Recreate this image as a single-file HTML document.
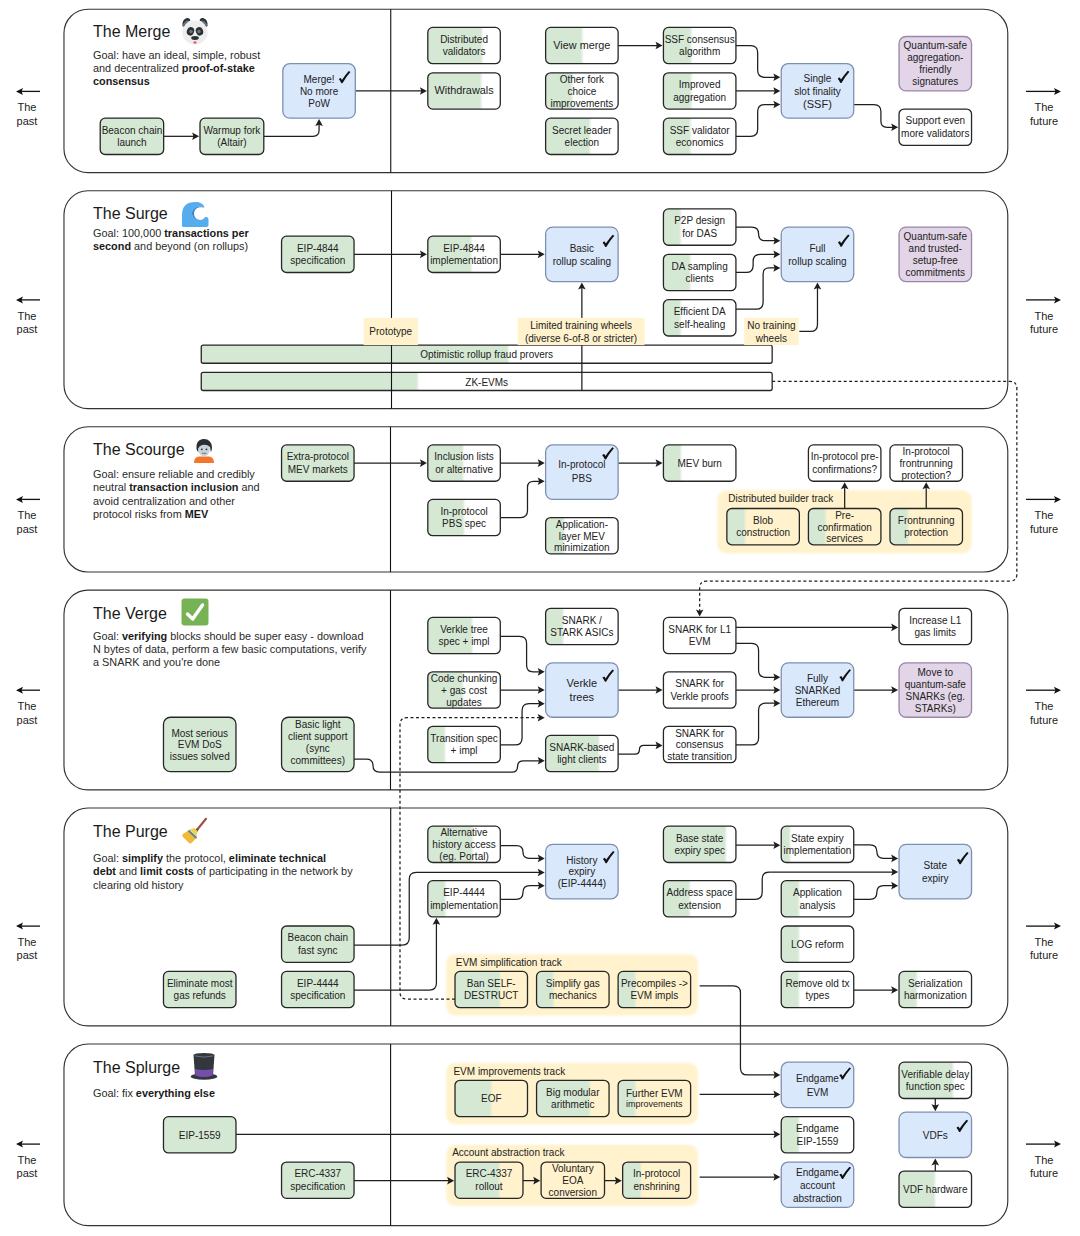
<!DOCTYPE html><html><head><meta charset="utf-8"><style>
*{margin:0;padding:0;box-sizing:border-box}
html,body{width:1080px;height:1236px;overflow:hidden;background:#fff;font-family:"Liberation Sans", sans-serif;}
.layer{position:absolute;left:0;top:0;width:1080px;height:1236px}
.btxt{position:absolute;display:flex;align-items:center;justify-content:center;text-align:center;font-size:10px;line-height:12px;color:#222}
.btxt span{display:block;white-space:nowrap}
.tlabel{position:absolute;font-size:10px;line-height:12px;color:#222;white-space:nowrap}
.title{position:absolute;font-size:16px;line-height:19px;color:#1a1a1a;white-space:nowrap}
.goal{position:absolute;font-size:10.87px;line-height:13.2px;color:#2a2a2a;white-space:nowrap}
.goal b{color:#1a1a1a}
.pf{position:absolute;text-align:center;font-size:11px;line-height:13.5px;color:#222}
</style></head><body>
<svg class="layer" width="1080" height="1236" viewBox="0 0 1080 1236"><defs><filter id="soft" x="-5%" y="-20%" width="110%" height="140%"><feGaussianBlur stdDeviation="0.8"/></filter><linearGradient id="g1" gradientUnits="userSpaceOnUse" x1="506.78" y1="0" x2="509.98" y2="0"><stop offset="0" stop-color="#d5e8d4"/><stop offset="1" stop-color="#fff"/></linearGradient><linearGradient id="g2" gradientUnits="userSpaceOnUse" x1="416.25" y1="0" x2="419.45" y2="0"><stop offset="0" stop-color="#d5e8d4"/><stop offset="1" stop-color="#fff"/></linearGradient><linearGradient id="g3" gradientUnits="userSpaceOnUse" x1="480.59" y1="0" x2="483.79" y2="0"><stop offset="0" stop-color="#d5e8d4"/><stop offset="1" stop-color="#fff"/></linearGradient><linearGradient id="g4" gradientUnits="userSpaceOnUse" x1="479.68" y1="0" x2="482.88" y2="0"><stop offset="0" stop-color="#d5e8d4"/><stop offset="1" stop-color="#fff"/></linearGradient><linearGradient id="g5" gradientUnits="userSpaceOnUse" x1="580.72" y1="0" x2="583.92" y2="0"><stop offset="0" stop-color="#d5e8d4"/><stop offset="1" stop-color="#fff"/></linearGradient><linearGradient id="g6" gradientUnits="userSpaceOnUse" x1="570.75" y1="0" x2="573.95" y2="0"><stop offset="0" stop-color="#d5e8d4"/><stop offset="1" stop-color="#fff"/></linearGradient><linearGradient id="g7" gradientUnits="userSpaceOnUse" x1="588.42" y1="0" x2="591.62" y2="0"><stop offset="0" stop-color="#d5e8d4"/><stop offset="1" stop-color="#fff"/></linearGradient><linearGradient id="g8" gradientUnits="userSpaceOnUse" x1="689.74" y1="0" x2="692.94" y2="0"><stop offset="0" stop-color="#d5e8d4"/><stop offset="1" stop-color="#fff"/></linearGradient><linearGradient id="g9" gradientUnits="userSpaceOnUse" x1="689.74" y1="0" x2="692.94" y2="0"><stop offset="0" stop-color="#d5e8d4"/><stop offset="1" stop-color="#fff"/></linearGradient><linearGradient id="g10" gradientUnits="userSpaceOnUse" x1="689.01" y1="0" x2="692.21" y2="0"><stop offset="0" stop-color="#d5e8d4"/><stop offset="1" stop-color="#fff"/></linearGradient><linearGradient id="g11" gradientUnits="userSpaceOnUse" x1="469.71" y1="0" x2="472.91" y2="0"><stop offset="0" stop-color="#d5e8d4"/><stop offset="1" stop-color="#fff"/></linearGradient><linearGradient id="g12" gradientUnits="userSpaceOnUse" x1="679.04" y1="0" x2="682.24" y2="0"><stop offset="0" stop-color="#d5e8d4"/><stop offset="1" stop-color="#fff"/></linearGradient><linearGradient id="g13" gradientUnits="userSpaceOnUse" x1="688.74" y1="0" x2="691.94" y2="0"><stop offset="0" stop-color="#d5e8d4"/><stop offset="1" stop-color="#fff"/></linearGradient><linearGradient id="g14" gradientUnits="userSpaceOnUse" x1="679.04" y1="0" x2="682.24" y2="0"><stop offset="0" stop-color="#d5e8d4"/><stop offset="1" stop-color="#fff"/></linearGradient><linearGradient id="g15" gradientUnits="userSpaceOnUse" x1="461.56" y1="0" x2="464.76" y2="0"><stop offset="0" stop-color="#d5e8d4"/><stop offset="1" stop-color="#fff"/></linearGradient><linearGradient id="g16" gradientUnits="userSpaceOnUse" x1="462.46" y1="0" x2="465.66" y2="0"><stop offset="0" stop-color="#d5e8d4"/><stop offset="1" stop-color="#fff"/></linearGradient><linearGradient id="g17" gradientUnits="userSpaceOnUse" x1="562.6" y1="0" x2="565.8" y2="0"><stop offset="0" stop-color="#d5e8d4"/><stop offset="1" stop-color="#fff"/></linearGradient><linearGradient id="g18" gradientUnits="userSpaceOnUse" x1="679.41" y1="0" x2="682.61" y2="0"><stop offset="0" stop-color="#d5e8d4"/><stop offset="1" stop-color="#fff"/></linearGradient><linearGradient id="g19" gradientUnits="userSpaceOnUse" x1="743.38" y1="0" x2="746.58" y2="0"><stop offset="0" stop-color="#d5e8d4"/><stop offset="1" stop-color="#fff2cc"/></linearGradient><linearGradient id="g20" gradientUnits="userSpaceOnUse" x1="824.04" y1="0" x2="827.24" y2="0"><stop offset="0" stop-color="#d5e8d4"/><stop offset="1" stop-color="#fff2cc"/></linearGradient><linearGradient id="g21" gradientUnits="userSpaceOnUse" x1="906.5" y1="0" x2="909.7" y2="0"><stop offset="0" stop-color="#d5e8d4"/><stop offset="1" stop-color="#fff2cc"/></linearGradient><linearGradient id="g22" gradientUnits="userSpaceOnUse" x1="470.62" y1="0" x2="473.82" y2="0"><stop offset="0" stop-color="#d5e8d4"/><stop offset="1" stop-color="#fff"/></linearGradient><linearGradient id="g23" gradientUnits="userSpaceOnUse" x1="461.19" y1="0" x2="464.39" y2="0"><stop offset="0" stop-color="#d5e8d4"/><stop offset="1" stop-color="#fff"/></linearGradient><linearGradient id="g24" gradientUnits="userSpaceOnUse" x1="443.43" y1="0" x2="446.63" y2="0"><stop offset="0" stop-color="#d5e8d4"/><stop offset="1" stop-color="#fff"/></linearGradient><linearGradient id="g25" gradientUnits="userSpaceOnUse" x1="561.6" y1="0" x2="564.8" y2="0"><stop offset="0" stop-color="#d5e8d4"/><stop offset="1" stop-color="#fff"/></linearGradient><linearGradient id="g26" gradientUnits="userSpaceOnUse" x1="597.49" y1="0" x2="600.69" y2="0"><stop offset="0" stop-color="#d5e8d4"/><stop offset="1" stop-color="#fff"/></linearGradient><linearGradient id="g27" gradientUnits="userSpaceOnUse" x1="470.98" y1="0" x2="474.18" y2="0"><stop offset="0" stop-color="#d5e8d4"/><stop offset="1" stop-color="#fff"/></linearGradient><linearGradient id="g28" gradientUnits="userSpaceOnUse" x1="443.88" y1="0" x2="447.08" y2="0"><stop offset="0" stop-color="#d5e8d4"/><stop offset="1" stop-color="#fff"/></linearGradient><linearGradient id="g29" gradientUnits="userSpaceOnUse" x1="724.26" y1="0" x2="727.46" y2="0"><stop offset="0" stop-color="#d5e8d4"/><stop offset="1" stop-color="#fff"/></linearGradient><linearGradient id="g30" gradientUnits="userSpaceOnUse" x1="688.11" y1="0" x2="691.31" y2="0"><stop offset="0" stop-color="#d5e8d4"/><stop offset="1" stop-color="#fff"/></linearGradient><linearGradient id="g31" gradientUnits="userSpaceOnUse" x1="788.51" y1="0" x2="791.71" y2="0"><stop offset="0" stop-color="#d5e8d4"/><stop offset="1" stop-color="#fff"/></linearGradient><linearGradient id="g32" gradientUnits="userSpaceOnUse" x1="797.39" y1="0" x2="800.59" y2="0"><stop offset="0" stop-color="#d5e8d4"/><stop offset="1" stop-color="#fff"/></linearGradient><linearGradient id="g33" gradientUnits="userSpaceOnUse" x1="797.39" y1="0" x2="800.59" y2="0"><stop offset="0" stop-color="#d5e8d4"/><stop offset="1" stop-color="#fff"/></linearGradient><linearGradient id="g34" gradientUnits="userSpaceOnUse" x1="797.39" y1="0" x2="800.59" y2="0"><stop offset="0" stop-color="#d5e8d4"/><stop offset="1" stop-color="#fff"/></linearGradient><linearGradient id="g35" gradientUnits="userSpaceOnUse" x1="915.2" y1="0" x2="918.4" y2="0"><stop offset="0" stop-color="#d5e8d4"/><stop offset="1" stop-color="#fff"/></linearGradient><linearGradient id="g36" gradientUnits="userSpaceOnUse" x1="498.35" y1="0" x2="501.55" y2="0"><stop offset="0" stop-color="#d5e8d4"/><stop offset="1" stop-color="#fff2cc"/></linearGradient><linearGradient id="g37" gradientUnits="userSpaceOnUse" x1="551.81" y1="0" x2="555.01" y2="0"><stop offset="0" stop-color="#d5e8d4"/><stop offset="1" stop-color="#fff2cc"/></linearGradient><linearGradient id="g38" gradientUnits="userSpaceOnUse" x1="633.73" y1="0" x2="636.93" y2="0"><stop offset="0" stop-color="#d5e8d4"/><stop offset="1" stop-color="#fff2cc"/></linearGradient><linearGradient id="g39" gradientUnits="userSpaceOnUse" x1="489.56" y1="0" x2="492.76" y2="0"><stop offset="0" stop-color="#d5e8d4"/><stop offset="1" stop-color="#fff2cc"/></linearGradient><linearGradient id="g40" gradientUnits="userSpaceOnUse" x1="588.15" y1="0" x2="591.35" y2="0"><stop offset="0" stop-color="#d5e8d4"/><stop offset="1" stop-color="#fff2cc"/></linearGradient><linearGradient id="g41" gradientUnits="userSpaceOnUse" x1="633.73" y1="0" x2="636.93" y2="0"><stop offset="0" stop-color="#d5e8d4"/><stop offset="1" stop-color="#fff2cc"/></linearGradient><linearGradient id="g42" gradientUnits="userSpaceOnUse" x1="497.62" y1="0" x2="500.82" y2="0"><stop offset="0" stop-color="#d5e8d4"/><stop offset="1" stop-color="#fff2cc"/></linearGradient><linearGradient id="g43" gradientUnits="userSpaceOnUse" x1="639.17" y1="0" x2="642.37" y2="0"><stop offset="0" stop-color="#d5e8d4"/><stop offset="1" stop-color="#fff2cc"/></linearGradient><linearGradient id="g44" gradientUnits="userSpaceOnUse" x1="797.39" y1="0" x2="800.59" y2="0"><stop offset="0" stop-color="#d5e8d4"/><stop offset="1" stop-color="#fff"/></linearGradient><linearGradient id="g45" gradientUnits="userSpaceOnUse" x1="951.54" y1="0" x2="954.74" y2="0"><stop offset="0" stop-color="#d5e8d4"/><stop offset="1" stop-color="#fff"/></linearGradient><linearGradient id="g46" gradientUnits="userSpaceOnUse" x1="933.41" y1="0" x2="936.61" y2="0"><stop offset="0" stop-color="#d5e8d4"/><stop offset="1" stop-color="#fff"/></linearGradient></defs><rect x="63.97" y="9.25" width="943.81" height="163.39" rx="24" ry="24" fill="#fff" stroke="#333" stroke-width="1.15"/><rect x="63.97" y="190.79" width="943.81" height="217.85" rx="24" ry="24" fill="#fff" stroke="#333" stroke-width="1.15"/><rect x="63.97" y="426.79" width="943.81" height="145.23" rx="24" ry="24" fill="#fff" stroke="#333" stroke-width="1.15"/><rect x="63.97" y="590.17" width="943.81" height="199.69" rx="24" ry="24" fill="#fff" stroke="#333" stroke-width="1.15"/><rect x="63.97" y="808.02" width="943.81" height="217.85" rx="24" ry="24" fill="#fff" stroke="#333" stroke-width="1.15"/><rect x="63.97" y="1044.03" width="943.81" height="181.54" rx="24" ry="24" fill="#fff" stroke="#333" stroke-width="1.15"/><rect x="717.3" y="490.33" width="254.24" height="62.94" rx="9" fill="#fff2cc" filter="url(#soft)"/><rect x="446.24" y="954.15" width="251.64" height="61.34" rx="9" fill="#fff2cc" filter="url(#soft)"/><rect x="446.24" y="1063.08" width="251.64" height="61.34" rx="9" fill="#fff2cc" filter="url(#soft)"/><rect x="446.24" y="1144.77" width="251.64" height="61.34" rx="9" fill="#fff2cc" filter="url(#soft)"/><rect x="201.26" y="345.1" width="570.91" height="18.15" rx="2" fill="url(#g1)" stroke="#262626" stroke-width="1.3"/><rect x="201.26" y="372.33" width="570.91" height="18.15" rx="2" fill="url(#g2)" stroke="#262626" stroke-width="1.3"/></svg>
<svg class="layer" width="1080" height="1236" viewBox="0 0 1080 1236"><line x1="390.75" y1="9.25" x2="390.75" y2="172.63" stroke="#111" stroke-width="1.1"/><line x1="391.5" y1="190.79" x2="391.5" y2="408.63" stroke="#111" stroke-width="1.1"/><line x1="390.5" y1="426.79" x2="390.5" y2="572.02" stroke="#111" stroke-width="1.1"/><line x1="390.5" y1="590.17" x2="390.5" y2="789.87" stroke="#111" stroke-width="1.1"/><line x1="390.7" y1="808.02" x2="390.7" y2="1025.87" stroke="#111" stroke-width="1.1"/><line x1="390.6" y1="1044.03" x2="390.6" y2="1225.57" stroke="#111" stroke-width="1.1"/><line x1="19" y1="91.4" x2="40" y2="91.4" stroke="#111" stroke-width="1.3"/><path d="M16 91.4 L23 87.9 L21.5 91.4 L23 94.9 Z" fill="#111"/><line x1="1026" y1="91.4" x2="1058" y2="91.4" stroke="#111" stroke-width="1.3"/><path d="M1061 91.4 L1054 87.9 L1055.5 91.4 L1054 94.9 Z" fill="#111"/><line x1="19" y1="299.9" x2="40" y2="299.9" stroke="#111" stroke-width="1.3"/><path d="M16 299.9 L23 296.4 L21.5 299.9 L23 303.4 Z" fill="#111"/><line x1="1026" y1="299.9" x2="1058" y2="299.9" stroke="#111" stroke-width="1.3"/><path d="M1061 299.9 L1054 296.4 L1055.5 299.9 L1054 303.4 Z" fill="#111"/><line x1="19" y1="499.4" x2="40" y2="499.4" stroke="#111" stroke-width="1.3"/><path d="M16 499.4 L23 495.9 L21.5 499.4 L23 502.9 Z" fill="#111"/><line x1="1026" y1="499.4" x2="1058" y2="499.4" stroke="#111" stroke-width="1.3"/><path d="M1061 499.4 L1054 495.9 L1055.5 499.4 L1054 502.9 Z" fill="#111"/><line x1="19" y1="690.2" x2="40" y2="690.2" stroke="#111" stroke-width="1.3"/><path d="M16 690.2 L23 686.7 L21.5 690.2 L23 693.7 Z" fill="#111"/><line x1="1026" y1="690.2" x2="1058" y2="690.2" stroke="#111" stroke-width="1.3"/><path d="M1061 690.2 L1054 686.7 L1055.5 690.2 L1054 693.7 Z" fill="#111"/><line x1="19" y1="926.1" x2="40" y2="926.1" stroke="#111" stroke-width="1.3"/><path d="M16 926.1 L23 922.6 L21.5 926.1 L23 929.6 Z" fill="#111"/><line x1="1026" y1="926.1" x2="1058" y2="926.1" stroke="#111" stroke-width="1.3"/><path d="M1061 926.1 L1054 922.6 L1055.5 926.1 L1054 929.6 Z" fill="#111"/><line x1="19" y1="1144.1" x2="40" y2="1144.1" stroke="#111" stroke-width="1.3"/><path d="M16 1144.1 L23 1140.6 L21.5 1144.1 L23 1147.6 Z" fill="#111"/><line x1="1026" y1="1144.1" x2="1058" y2="1144.1" stroke="#111" stroke-width="1.3"/><path d="M1061 1144.1 L1054 1140.6 L1055.5 1144.1 L1054 1147.6 Z" fill="#111"/><path d="M163.66 136.32 L194.0 136.32" fill="none" stroke="#1e1e1e" stroke-width="1.25"/><path d="M199.1 136.32 L192.1 140.12 L193.5 136.32 L192.1 132.52 Z" fill="#1e1e1e"/><path d="M263.79 136.32 L312.99 136.32 Q319.07 136.32 319.07 130.25 L319.07 124.17" fill="none" stroke="#1e1e1e" stroke-width="1.25"/><path d="M319.07 119.07 L322.87 126.07 L319.07 124.67 L315.27 126.07 Z" fill="#1e1e1e"/><path d="M355.32 90.94 L421.81 90.94" fill="none" stroke="#1e1e1e" stroke-width="1.25"/><path d="M426.91 90.94 L419.91 94.74 L421.31 90.94 L419.91 87.14 Z" fill="#1e1e1e"/><path d="M618.12 45.55 L657.43 45.55" fill="none" stroke="#1e1e1e" stroke-width="1.25"/><path d="M662.53 45.55 L655.53 49.35 L656.93 45.55 L655.53 41.76 Z" fill="#1e1e1e"/><path d="M735.92 45.55 L750.67 45.55 Q757.67 45.55 757.67 52.55 L757.67 70.32 Q757.67 77.32 764.67 77.32 L775.23 77.32" fill="none" stroke="#1e1e1e" stroke-width="1.25"/><path d="M780.33 77.32 L773.33 81.12 L774.73 77.32 L773.33 73.52 Z" fill="#1e1e1e"/><path d="M735.92 90.94 L775.23 90.94" fill="none" stroke="#1e1e1e" stroke-width="1.25"/><path d="M780.33 90.94 L773.33 94.74 L774.73 90.94 L773.33 87.14 Z" fill="#1e1e1e"/><path d="M735.92 136.32 L750.67 136.32 Q757.67 136.32 757.67 129.32 L757.67 111.56 Q757.67 104.56 764.67 104.56 L775.23 104.56" fill="none" stroke="#1e1e1e" stroke-width="1.25"/><path d="M780.33 104.56 L773.33 108.36 L774.73 104.56 L773.33 100.76 Z" fill="#1e1e1e"/><path d="M853.73 104.56 L873.91 104.56 Q880.91 104.56 880.91 111.56 L880.91 121.19 Q880.91 127.25 886.98 127.25 L893.04 127.25" fill="none" stroke="#1e1e1e" stroke-width="1.25"/><path d="M898.14 127.25 L891.14 131.05 L892.54 127.25 L891.14 123.45 Z" fill="#1e1e1e"/><path d="M354.05 254.33 L421.81 254.33" fill="none" stroke="#1e1e1e" stroke-width="1.25"/><path d="M426.91 254.33 L419.91 258.13 L421.31 254.33 L419.91 250.53 Z" fill="#1e1e1e"/><path d="M500.31 254.33 L539.62 254.33" fill="none" stroke="#1e1e1e" stroke-width="1.25"/><path d="M544.72 254.33 L537.72 258.13 L539.12 254.33 L537.72 250.53 Z" fill="#1e1e1e"/><path d="M581.87 390.48 L581.87 287.56" fill="none" stroke="#1e1e1e" stroke-width="1.25"/><path d="M581.87 282.46 L585.67 289.46 L581.87 288.06 L578.07 289.46 Z" fill="#1e1e1e"/><path d="M735.92 227.09 L751.77 227.09 Q758.58 227.09 758.58 233.9 L758.58 233.9 Q758.58 240.71 765.38 240.71 L775.23 240.71" fill="none" stroke="#1e1e1e" stroke-width="1.25"/><path d="M780.33 240.71 L773.33 244.51 L774.73 240.71 L773.33 236.91 Z" fill="#1e1e1e"/><path d="M735.92 272.48 L746.14 272.48 Q753.14 272.48 753.14 265.48 L753.14 261.33 Q753.14 254.33 760.14 254.33 L775.23 254.33" fill="none" stroke="#1e1e1e" stroke-width="1.25"/><path d="M780.33 254.33 L773.33 258.13 L774.73 254.33 L773.33 250.53 Z" fill="#1e1e1e"/><path d="M735.92 309.24 L756.11 309.24 Q763.11 309.24 763.11 302.24 L763.11 274.0 Q763.11 267.94 769.17 267.94 L775.23 267.94" fill="none" stroke="#1e1e1e" stroke-width="1.25"/><path d="M780.33 267.94 L773.33 271.74 L774.73 267.94 L773.33 264.14 Z" fill="#1e1e1e"/><path d="M799.36 331.48 L810.48 331.48 Q817.48 331.48 817.48 324.48 L817.48 287.56" fill="none" stroke="#1e1e1e" stroke-width="1.25"/><path d="M817.48 282.46 L821.28 289.46 L817.48 288.06 L813.68 289.46 Z" fill="#1e1e1e"/><path d="M772.17 381.4 L1009.84 381.4 Q1016.84 381.4 1016.84 388.4 L1016.84 574.1 Q1016.84 581.1 1009.84 581.1 L706.67 581.1 Q699.67 581.1 699.67 588.1 L699.67 611.41" fill="none" stroke="#1e1e1e" stroke-width="1.25" stroke-dasharray="3 2.5"/><path d="M699.67 616.51 L695.87 609.51 L699.67 610.91 L703.47 609.51 Z" fill="#1e1e1e"/><path d="M354.05 463.1 L421.81 463.1" fill="none" stroke="#1e1e1e" stroke-width="1.25"/><path d="M426.91 463.1 L419.91 466.9 L421.31 463.1 L419.91 459.3 Z" fill="#1e1e1e"/><path d="M500.31 463.1 L539.62 463.1" fill="none" stroke="#1e1e1e" stroke-width="1.25"/><path d="M544.72 463.1 L537.72 466.9 L539.12 463.1 L537.72 459.3 Z" fill="#1e1e1e"/><path d="M500.31 517.56 L520.5 517.56 Q527.5 517.56 527.5 510.56 L527.5 487.31 Q527.5 481.25 533.56 481.25 L539.62 481.25" fill="none" stroke="#1e1e1e" stroke-width="1.25"/><path d="M544.72 481.25 L537.72 485.05 L539.12 481.25 L537.72 477.45 Z" fill="#1e1e1e"/><path d="M618.12 463.1 L657.43 463.1" fill="none" stroke="#1e1e1e" stroke-width="1.25"/><path d="M662.53 463.1 L655.53 466.9 L656.93 463.1 L655.53 459.3 Z" fill="#1e1e1e"/><path d="M844.67 508.48 L844.67 487.25" fill="none" stroke="#1e1e1e" stroke-width="1.25"/><path d="M844.67 482.15 L848.47 489.15 L844.67 487.75 L840.87 489.15 Z" fill="#1e1e1e"/><path d="M926.22 508.48 L926.22 487.25" fill="none" stroke="#1e1e1e" stroke-width="1.25"/><path d="M926.22 482.15 L930.02 489.15 L926.22 487.75 L922.42 489.15 Z" fill="#1e1e1e"/><path d="M500.31 636.47 L519.59 636.47 Q526.59 636.47 526.59 643.47 L526.59 665.35 Q526.59 671.87 533.1 671.87 L539.62 671.87" fill="none" stroke="#1e1e1e" stroke-width="1.25"/><path d="M544.72 671.87 L537.72 675.67 L539.12 671.87 L537.72 668.07 Z" fill="#1e1e1e"/><path d="M500.31 690.02 L539.62 690.02" fill="none" stroke="#1e1e1e" stroke-width="1.25"/><path d="M544.72 690.02 L537.72 693.82 L539.12 690.02 L537.72 686.22 Z" fill="#1e1e1e"/><path d="M500.31 744.94 L515.06 744.94 Q522.06 744.94 522.06 737.94 L522.06 710.64 Q522.06 703.64 529.06 703.64 L539.62 703.64" fill="none" stroke="#1e1e1e" stroke-width="1.25"/><path d="M544.72 703.64 L537.72 707.44 L539.12 703.64 L537.72 699.84 Z" fill="#1e1e1e"/><path d="M455.0 999.09 L406.99 999.09 Q399.99 999.09 399.99 992.09 L399.99 724.71 Q399.99 717.71 406.99 717.71 L539.62 717.71" fill="none" stroke="#1e1e1e" stroke-width="1.25" stroke-dasharray="3 2.5"/><path d="M544.72 717.71 L537.72 721.51 L539.12 717.71 L537.72 713.91 Z" fill="#1e1e1e"/><path d="M354.05 759.01 L366.41 759.01 Q372.99 759.01 372.99 765.59 L372.99 765.59 Q372.99 772.17 379.57 772.17 L511.85 772.17 Q517.53 772.17 517.53 766.5 L517.53 766.5 Q517.53 760.82 523.2 760.82 L539.62 760.82" fill="none" stroke="#1e1e1e" stroke-width="1.25"/><path d="M544.72 760.82 L537.72 764.62 L539.12 760.82 L537.72 757.02 Z" fill="#1e1e1e"/><path d="M618.12 690.02 L657.43 690.02" fill="none" stroke="#1e1e1e" stroke-width="1.25"/><path d="M662.53 690.02 L655.53 693.82 L656.93 690.02 L655.53 686.22 Z" fill="#1e1e1e"/><path d="M618.12 754.01 L635.1 754.01 Q639.41 754.01 639.41 749.7 L639.41 749.7 Q639.41 745.39 643.72 745.39 L657.43 745.39" fill="none" stroke="#1e1e1e" stroke-width="1.25"/><path d="M662.53 745.39 L655.53 749.19 L656.93 745.39 L655.53 741.59 Z" fill="#1e1e1e"/><path d="M735.92 627.39 L893.04 627.39" fill="none" stroke="#1e1e1e" stroke-width="1.25"/><path d="M898.14 627.39 L891.14 631.19 L892.54 627.39 L891.14 623.59 Z" fill="#1e1e1e"/><path d="M735.92 643.28 L751.58 643.28 Q758.58 643.28 758.58 650.28 L758.58 670.31 Q758.58 677.31 765.58 677.31 L775.23 677.31" fill="none" stroke="#1e1e1e" stroke-width="1.25"/><path d="M780.33 677.31 L773.33 681.11 L774.73 677.31 L773.33 673.51 Z" fill="#1e1e1e"/><path d="M735.92 690.02 L775.23 690.02" fill="none" stroke="#1e1e1e" stroke-width="1.25"/><path d="M780.33 690.02 L773.33 693.82 L774.73 690.02 L773.33 686.22 Z" fill="#1e1e1e"/><path d="M735.92 744.94 L751.58 744.94 Q758.58 744.94 758.58 737.94 L758.58 710.18 Q758.58 703.18 765.58 703.18 L775.23 703.18" fill="none" stroke="#1e1e1e" stroke-width="1.25"/><path d="M780.33 703.18 L773.33 706.98 L774.73 703.18 L773.33 699.38 Z" fill="#1e1e1e"/><path d="M853.73 690.02 L893.04 690.02" fill="none" stroke="#1e1e1e" stroke-width="1.25"/><path d="M898.14 690.02 L891.14 693.82 L892.54 690.02 L891.14 686.22 Z" fill="#1e1e1e"/><path d="M500.31 845.69 L516.61 845.69 Q522.97 845.69 522.97 852.05 L522.97 852.05 Q522.97 858.4 529.32 858.4 L539.62 858.4" fill="none" stroke="#1e1e1e" stroke-width="1.25"/><path d="M544.72 858.4 L537.72 862.2 L539.12 858.4 L537.72 854.6 Z" fill="#1e1e1e"/><path d="M354.05 945.09 L402.24 945.09 Q409.24 945.09 409.24 938.09 L409.24 879.47 Q409.24 872.47 416.24 872.47 L539.62 872.47" fill="none" stroke="#1e1e1e" stroke-width="1.25"/><path d="M544.72 872.47 L537.72 876.27 L539.12 872.47 L537.72 868.67 Z" fill="#1e1e1e"/><path d="M500.31 899.25 L516.16 899.25 Q522.97 899.25 522.97 892.44 L522.97 892.44 Q522.97 885.63 529.77 885.63 L539.62 885.63" fill="none" stroke="#1e1e1e" stroke-width="1.25"/><path d="M544.72 885.63 L537.72 889.43 L539.12 885.63 L537.72 881.83 Z" fill="#1e1e1e"/><path d="M354.05 990.02 L429.42 990.02 Q436.42 990.02 436.42 983.02 L436.42 922.95" fill="none" stroke="#1e1e1e" stroke-width="1.25"/><path d="M436.42 917.85 L440.22 924.85 L436.42 923.45 L432.62 924.85 Z" fill="#1e1e1e"/><path d="M735.92 845.24 L775.23 845.24" fill="none" stroke="#1e1e1e" stroke-width="1.25"/><path d="M780.33 845.24 L773.33 849.04 L774.73 845.24 L773.33 841.44 Z" fill="#1e1e1e"/><path d="M853.73 844.78 L870.03 844.78 Q876.84 844.78 876.84 851.59 L876.84 851.59 Q876.84 858.4 883.64 858.4 L893.04 858.4" fill="none" stroke="#1e1e1e" stroke-width="1.25"/><path d="M898.14 858.4 L891.14 862.2 L892.54 858.4 L891.14 854.6 Z" fill="#1e1e1e"/><path d="M735.92 899.25 L755.2 899.25 Q762.2 899.25 762.2 892.25 L762.2 879.02 Q762.2 872.02 769.2 872.02 L893.04 872.02" fill="none" stroke="#1e1e1e" stroke-width="1.25"/><path d="M898.14 872.02 L891.14 875.82 L892.54 872.02 L891.14 868.22 Z" fill="#1e1e1e"/><path d="M853.73 899.25 L870.03 899.25 Q876.84 899.25 876.84 892.44 L876.84 892.44 Q876.84 885.63 883.64 885.63 L893.04 885.63" fill="none" stroke="#1e1e1e" stroke-width="1.25"/><path d="M898.14 885.63 L891.14 889.43 L892.54 885.63 L891.14 881.83 Z" fill="#1e1e1e"/><path d="M853.73 990.02 L893.04 990.02" fill="none" stroke="#1e1e1e" stroke-width="1.25"/><path d="M898.14 990.02 L891.14 993.82 L892.54 990.02 L891.14 986.22 Z" fill="#1e1e1e"/><path d="M699.67 985.93 L733.45 985.93 Q740.45 985.93 740.45 992.93 L740.45 1067.89 Q740.45 1074.89 747.45 1074.89 L775.23 1074.89" fill="none" stroke="#1e1e1e" stroke-width="1.25"/><path d="M780.33 1074.89 L773.33 1078.69 L774.73 1074.89 L773.33 1071.09 Z" fill="#1e1e1e"/><path d="M235.97 1134.34 L775.23 1134.34" fill="none" stroke="#1e1e1e" stroke-width="1.25"/><path d="M780.33 1134.34 L773.33 1138.14 L774.73 1134.34 L773.33 1130.54 Z" fill="#1e1e1e"/><path d="M354.05 1180.63 L449.0 1180.63" fill="none" stroke="#1e1e1e" stroke-width="1.25"/><path d="M454.1 1180.63 L447.1 1184.43 L448.5 1180.63 L447.1 1176.83 Z" fill="#1e1e1e"/><path d="M522.97 1180.63 L535.09 1180.63" fill="none" stroke="#1e1e1e" stroke-width="1.25"/><path d="M540.19 1180.63 L533.19 1184.43 L534.59 1180.63 L533.19 1176.83 Z" fill="#1e1e1e"/><path d="M604.52 1180.63 L616.65 1180.63" fill="none" stroke="#1e1e1e" stroke-width="1.25"/><path d="M621.75 1180.63 L614.75 1184.43 L616.15 1180.63 L614.75 1176.83 Z" fill="#1e1e1e"/><path d="M699.67 1177.0 L775.23 1177.0" fill="none" stroke="#1e1e1e" stroke-width="1.25"/><path d="M780.33 1177.0 L773.33 1180.8 L774.73 1177.0 L773.33 1173.2 Z" fill="#1e1e1e"/><path d="M699.67 1094.4 L775.23 1094.4" fill="none" stroke="#1e1e1e" stroke-width="1.25"/><path d="M780.33 1094.4 L773.33 1098.2 L774.73 1094.4 L773.33 1090.6 Z" fill="#1e1e1e"/><path d="M935.29 1098.49 L935.29 1106.1" fill="none" stroke="#1e1e1e" stroke-width="1.25"/><path d="M935.29 1111.2 L931.49 1104.2 L935.29 1105.6 L939.09 1104.2 Z" fill="#1e1e1e"/><path d="M935.29 1171.1 L935.29 1163.49" fill="none" stroke="#1e1e1e" stroke-width="1.25"/><path d="M935.29 1158.39 L939.09 1165.39 L935.29 1163.99 L931.49 1165.39 Z" fill="#1e1e1e"/></svg>
<svg class="layer" width="1080" height="1236" viewBox="0 0 1080 1236"><defs></defs><rect x="100.22" y="118.17" width="63.43" height="36.31" rx="5" fill="#d5e8d4" stroke="#262626" stroke-width="1.3"/><rect x="200.0" y="118.17" width="63.8" height="36.31" rx="5" fill="#d5e8d4" stroke="#262626" stroke-width="1.3"/><rect x="282.82" y="63.71" width="72.5" height="54.46" rx="7" fill="#dae8fc" stroke="#7d90b0" stroke-width="1.3"/><path transform="translate(338.72 71.11)" d="M0 7.9 Q1 7.0 2.1 6.8 L3.2 8.8 Q6.4 4.1 10.1 0 L11.7 0.9 Q7.0 6.3 3.9 11.9 Q3.2 12.5 2.5 12.0 Q1.4 9.4 0 7.9 Z" fill="#111"/><rect x="427.81" y="27.4" width="72.5" height="36.31" rx="5" fill="url(#g3)" stroke="#262626" stroke-width="1.3"/><rect x="427.81" y="72.79" width="72.5" height="36.31" rx="5" fill="url(#g4)" stroke="#262626" stroke-width="1.3"/><rect x="545.62" y="27.4" width="72.5" height="36.31" rx="5" fill="url(#g5)" stroke="#262626" stroke-width="1.3"/><rect x="545.62" y="72.79" width="72.5" height="36.31" rx="5" fill="url(#g6)" stroke="#262626" stroke-width="1.3"/><rect x="545.62" y="118.17" width="72.5" height="36.31" rx="5" fill="url(#g7)" stroke="#262626" stroke-width="1.3"/><rect x="663.43" y="27.4" width="72.5" height="36.31" rx="5" fill="url(#g8)" stroke="#262626" stroke-width="1.3"/><rect x="663.43" y="72.79" width="72.5" height="36.31" rx="5" fill="url(#g9)" stroke="#262626" stroke-width="1.3"/><rect x="663.43" y="118.17" width="72.5" height="36.31" rx="5" fill="url(#g10)" stroke="#262626" stroke-width="1.3"/><rect x="781.23" y="63.71" width="72.5" height="54.46" rx="7" fill="#dae8fc" stroke="#7d90b0" stroke-width="1.3"/><path transform="translate(837.73 70.81)" d="M0 7.9 Q1 7.0 2.1 6.8 L3.2 8.8 Q6.4 4.1 10.1 0 L11.7 0.9 Q7.0 6.3 3.9 11.9 Q3.2 12.5 2.5 12.0 Q1.4 9.4 0 7.9 Z" fill="#111"/><rect x="899.04" y="36.48" width="72.5" height="54.46" rx="7" fill="#e1d5e7" stroke="#9a85a8" stroke-width="1.3"/><rect x="899.04" y="109.09" width="72.5" height="36.31" rx="5" fill="#fff" stroke="#262626" stroke-width="1.3"/><rect x="281.55" y="236.17" width="72.5" height="36.31" rx="5" fill="#d5e8d4" stroke="#262626" stroke-width="1.3"/><rect x="427.81" y="236.17" width="72.5" height="36.31" rx="5" fill="url(#g11)" stroke="#262626" stroke-width="1.3"/><rect x="545.62" y="227.09" width="72.5" height="54.46" rx="7" fill="#dae8fc" stroke="#7d90b0" stroke-width="1.3"/><path transform="translate(602.62 234.79)" d="M0 7.9 Q1 7.0 2.1 6.8 L3.2 8.8 Q6.4 4.1 10.1 0 L11.7 0.9 Q7.0 6.3 3.9 11.9 Q3.2 12.5 2.5 12.0 Q1.4 9.4 0 7.9 Z" fill="#111"/><rect x="663.43" y="208.94" width="72.5" height="36.31" rx="5" fill="url(#g12)" stroke="#262626" stroke-width="1.3"/><rect x="663.43" y="254.33" width="72.5" height="36.31" rx="5" fill="url(#g13)" stroke="#262626" stroke-width="1.3"/><rect x="663.43" y="299.71" width="72.5" height="36.31" rx="5" fill="url(#g14)" stroke="#262626" stroke-width="1.3"/><rect x="781.23" y="227.09" width="72.5" height="54.46" rx="7" fill="#dae8fc" stroke="#7d90b0" stroke-width="1.3"/><path transform="translate(837.93 234.49)" d="M0 7.9 Q1 7.0 2.1 6.8 L3.2 8.8 Q6.4 4.1 10.1 0 L11.7 0.9 Q7.0 6.3 3.9 11.9 Q3.2 12.5 2.5 12.0 Q1.4 9.4 0 7.9 Z" fill="#111"/><rect x="899.04" y="227.09" width="72.5" height="54.46" rx="7" fill="#e1d5e7" stroke="#9a85a8" stroke-width="1.3"/><rect x="363.58" y="317.87" width="54.37" height="27.23" fill="#fff2cc"/><rect x="517.63" y="317.87" width="126.87" height="27.23" fill="#fff2cc"/><rect x="744.18" y="317.87" width="54.37" height="27.23" fill="#fff2cc"/><rect x="281.55" y="444.94" width="72.5" height="36.31" rx="5" fill="#d5e8d4" stroke="#262626" stroke-width="1.3"/><rect x="427.81" y="444.94" width="72.5" height="36.31" rx="5" fill="url(#g15)" stroke="#262626" stroke-width="1.3"/><rect x="427.81" y="499.4" width="72.5" height="36.31" rx="5" fill="url(#g16)" stroke="#262626" stroke-width="1.3"/><rect x="545.62" y="444.94" width="72.5" height="54.46" rx="7" fill="#dae8fc" stroke="#7d90b0" stroke-width="1.3"/><path transform="translate(602.22 447.24)" d="M0 7.9 Q1 7.0 2.1 6.8 L3.2 8.8 Q6.4 4.1 10.1 0 L11.7 0.9 Q7.0 6.3 3.9 11.9 Q3.2 12.5 2.5 12.0 Q1.4 9.4 0 7.9 Z" fill="#111"/><rect x="545.62" y="517.56" width="72.5" height="36.31" rx="5" fill="url(#g17)" stroke="#262626" stroke-width="1.3"/><rect x="663.43" y="444.94" width="72.5" height="36.31" rx="5" fill="url(#g18)" stroke="#262626" stroke-width="1.3"/><rect x="808.42" y="444.94" width="72.5" height="36.31" rx="5" fill="#fff" stroke="#262626" stroke-width="1.3"/><rect x="889.98" y="444.94" width="72.5" height="36.31" rx="5" fill="#fff" stroke="#262626" stroke-width="1.3"/><rect x="726.86" y="508.48" width="72.5" height="36.31" rx="5" fill="url(#g19)" stroke="#262626" stroke-width="1.3"/><rect x="808.42" y="508.48" width="72.5" height="36.31" rx="5" fill="url(#g20)" stroke="#262626" stroke-width="1.3"/><rect x="889.98" y="508.48" width="72.5" height="36.31" rx="5" fill="url(#g21)" stroke="#262626" stroke-width="1.3"/><rect x="163.48" y="717.25" width="72.5" height="54.46" rx="7" fill="#d5e8d4" stroke="#262626" stroke-width="1.3"/><rect x="281.55" y="717.25" width="72.5" height="54.46" rx="7" fill="#d5e8d4" stroke="#262626" stroke-width="1.3"/><rect x="427.81" y="617.41" width="72.5" height="36.31" rx="5" fill="url(#g22)" stroke="#262626" stroke-width="1.3"/><rect x="427.81" y="671.87" width="72.5" height="36.31" rx="5" fill="url(#g23)" stroke="#262626" stroke-width="1.3"/><rect x="427.81" y="726.33" width="72.5" height="36.31" rx="5" fill="url(#g24)" stroke="#262626" stroke-width="1.3"/><rect x="545.62" y="608.33" width="72.5" height="36.31" rx="5" fill="url(#g25)" stroke="#262626" stroke-width="1.3"/><rect x="545.62" y="662.79" width="72.5" height="54.46" rx="7" fill="#dae8fc" stroke="#7d90b0" stroke-width="1.3"/><path transform="translate(602.32 669.59)" d="M0 7.9 Q1 7.0 2.1 6.8 L3.2 8.8 Q6.4 4.1 10.1 0 L11.7 0.9 Q7.0 6.3 3.9 11.9 Q3.2 12.5 2.5 12.0 Q1.4 9.4 0 7.9 Z" fill="#111"/><rect x="545.62" y="735.41" width="72.5" height="36.31" rx="5" fill="url(#g26)" stroke="#262626" stroke-width="1.3"/><rect x="663.43" y="617.41" width="72.5" height="36.31" rx="5" fill="#fff" stroke="#262626" stroke-width="1.3"/><rect x="663.43" y="671.87" width="72.5" height="36.31" rx="5" fill="#fff" stroke="#262626" stroke-width="1.3"/><rect x="663.43" y="726.33" width="72.5" height="36.31" rx="5" fill="#fff" stroke="#262626" stroke-width="1.3"/><rect x="781.23" y="662.79" width="72.5" height="54.46" rx="7" fill="#dae8fc" stroke="#7d90b0" stroke-width="1.3"/><path transform="translate(839.33 669.19)" d="M0 7.9 Q1 7.0 2.1 6.8 L3.2 8.8 Q6.4 4.1 10.1 0 L11.7 0.9 Q7.0 6.3 3.9 11.9 Q3.2 12.5 2.5 12.0 Q1.4 9.4 0 7.9 Z" fill="#111"/><rect x="899.04" y="608.33" width="72.5" height="36.31" rx="5" fill="#fff" stroke="#262626" stroke-width="1.3"/><rect x="899.04" y="662.79" width="72.5" height="54.46" rx="7" fill="#e1d5e7" stroke="#9a85a8" stroke-width="1.3"/><rect x="281.55" y="926.02" width="72.5" height="36.31" rx="5" fill="#d5e8d4" stroke="#262626" stroke-width="1.3"/><rect x="163.48" y="971.41" width="72.5" height="36.31" rx="5" fill="#d5e8d4" stroke="#262626" stroke-width="1.3"/><rect x="281.55" y="971.41" width="72.5" height="36.31" rx="5" fill="#d5e8d4" stroke="#262626" stroke-width="1.3"/><rect x="427.81" y="826.18" width="72.5" height="36.31" rx="5" fill="url(#g27)" stroke="#262626" stroke-width="1.3"/><rect x="427.81" y="880.64" width="72.5" height="36.31" rx="5" fill="url(#g28)" stroke="#262626" stroke-width="1.3"/><rect x="545.62" y="844.33" width="72.5" height="54.46" rx="7" fill="#dae8fc" stroke="#7d90b0" stroke-width="1.3"/><path transform="translate(602.92 851.03)" d="M0 7.9 Q1 7.0 2.1 6.8 L3.2 8.8 Q6.4 4.1 10.1 0 L11.7 0.9 Q7.0 6.3 3.9 11.9 Q3.2 12.5 2.5 12.0 Q1.4 9.4 0 7.9 Z" fill="#111"/><rect x="663.43" y="826.18" width="72.5" height="36.31" rx="5" fill="url(#g29)" stroke="#262626" stroke-width="1.3"/><rect x="663.43" y="880.64" width="72.5" height="36.31" rx="5" fill="url(#g30)" stroke="#262626" stroke-width="1.3"/><rect x="781.23" y="826.18" width="72.5" height="36.31" rx="5" fill="url(#g31)" stroke="#262626" stroke-width="1.3"/><rect x="781.23" y="880.64" width="72.5" height="36.31" rx="5" fill="url(#g32)" stroke="#262626" stroke-width="1.3"/><rect x="781.23" y="926.02" width="72.5" height="36.31" rx="5" fill="url(#g33)" stroke="#262626" stroke-width="1.3"/><rect x="781.23" y="971.41" width="72.5" height="36.31" rx="5" fill="url(#g34)" stroke="#262626" stroke-width="1.3"/><rect x="899.04" y="844.33" width="72.5" height="54.46" rx="7" fill="#dae8fc" stroke="#7d90b0" stroke-width="1.3"/><path transform="translate(956.93 852.03)" d="M0 7.9 Q1 7.0 2.1 6.8 L3.2 8.8 Q6.4 4.1 10.1 0 L11.7 0.9 Q7.0 6.3 3.9 11.9 Q3.2 12.5 2.5 12.0 Q1.4 9.4 0 7.9 Z" fill="#111"/><rect x="899.04" y="971.41" width="72.5" height="36.31" rx="5" fill="url(#g35)" stroke="#262626" stroke-width="1.3"/><rect x="455.0" y="971.41" width="72.5" height="36.31" rx="5" fill="url(#g36)" stroke="#262626" stroke-width="1.3"/><rect x="536.56" y="971.41" width="72.5" height="36.31" rx="5" fill="url(#g37)" stroke="#262626" stroke-width="1.3"/><rect x="618.12" y="971.41" width="72.5" height="36.31" rx="5" fill="url(#g38)" stroke="#262626" stroke-width="1.3"/><rect x="163.48" y="1116.64" width="72.5" height="36.31" rx="5" fill="#d5e8d4" stroke="#262626" stroke-width="1.3"/><rect x="281.55" y="1162.03" width="72.5" height="36.31" rx="5" fill="#d5e8d4" stroke="#262626" stroke-width="1.3"/><rect x="455.0" y="1080.33" width="72.5" height="36.31" rx="5" fill="url(#g39)" stroke="#262626" stroke-width="1.3"/><rect x="536.56" y="1080.33" width="72.5" height="36.31" rx="5" fill="url(#g40)" stroke="#262626" stroke-width="1.3"/><rect x="618.12" y="1080.33" width="72.5" height="36.31" rx="5" fill="url(#g41)" stroke="#262626" stroke-width="1.3"/><rect x="455.0" y="1162.03" width="67.97" height="36.31" rx="5" fill="url(#g42)" stroke="#262626" stroke-width="1.3"/><rect x="541.09" y="1162.03" width="63.43" height="36.31" rx="5" fill="#fff2cc" stroke="#262626" stroke-width="1.3"/><rect x="622.65" y="1162.03" width="67.97" height="36.31" rx="5" fill="url(#g43)" stroke="#262626" stroke-width="1.3"/><rect x="781.23" y="1062.18" width="72.5" height="45.38" rx="7" fill="#dae8fc" stroke="#7d90b0" stroke-width="1.3"/><path transform="translate(839.33 1067.38)" d="M0 7.9 Q1 7.0 2.1 6.8 L3.2 8.8 Q6.4 4.1 10.1 0 L11.7 0.9 Q7.0 6.3 3.9 11.9 Q3.2 12.5 2.5 12.0 Q1.4 9.4 0 7.9 Z" fill="#111"/><rect x="781.23" y="1116.64" width="72.5" height="36.31" rx="5" fill="url(#g44)" stroke="#262626" stroke-width="1.3"/><rect x="781.23" y="1162.03" width="72.5" height="45.38" rx="7" fill="#dae8fc" stroke="#7d90b0" stroke-width="1.3"/><path transform="translate(839.33 1166.83)" d="M0 7.9 Q1 7.0 2.1 6.8 L3.2 8.8 Q6.4 4.1 10.1 0 L11.7 0.9 Q7.0 6.3 3.9 11.9 Q3.2 12.5 2.5 12.0 Q1.4 9.4 0 7.9 Z" fill="#111"/><rect x="899.04" y="1062.18" width="72.5" height="36.31" rx="5" fill="url(#g45)" stroke="#262626" stroke-width="1.3"/><rect x="899.04" y="1112.1" width="72.5" height="45.38" rx="7" fill="#dae8fc" stroke="#7d90b0" stroke-width="1.3"/><path transform="translate(956.43 1119.8)" d="M0 7.9 Q1 7.0 2.1 6.8 L3.2 8.8 Q6.4 4.1 10.1 0 L11.7 0.9 Q7.0 6.3 3.9 11.9 Q3.2 12.5 2.5 12.0 Q1.4 9.4 0 7.9 Z" fill="#111"/><rect x="899.04" y="1171.1" width="72.5" height="36.31" rx="5" fill="url(#g46)" stroke="#262626" stroke-width="1.3"/></svg>
<div class="layer"><div class="pf" style="left:0px;top:101.2px;width:54px">The<br>past</div><div class="pf" style="left:1017px;top:101.2px;width:54px">The<br>future</div><div class="pf" style="left:0px;top:309.7px;width:54px">The<br>past</div><div class="pf" style="left:1017px;top:309.7px;width:54px">The<br>future</div><div class="pf" style="left:0px;top:509.2px;width:54px">The<br>past</div><div class="pf" style="left:1017px;top:509.2px;width:54px">The<br>future</div><div class="pf" style="left:0px;top:700.0px;width:54px">The<br>past</div><div class="pf" style="left:1017px;top:700.0px;width:54px">The<br>future</div><div class="pf" style="left:0px;top:935.9px;width:54px">The<br>past</div><div class="pf" style="left:1017px;top:935.9px;width:54px">The<br>future</div><div class="pf" style="left:0px;top:1153.9px;width:54px">The<br>past</div><div class="pf" style="left:1017px;top:1153.9px;width:54px">The<br>future</div><div class="title" style="left:93px;top:22.2px">The Merge</div><div class="title" style="left:93px;top:203.95px">The Surge</div><div class="title" style="left:93px;top:439.9px">The Scourge</div><div class="title" style="left:93px;top:603.9px">The Verge</div><div class="title" style="left:93px;top:821.7px">The Purge</div><div class="title" style="left:93px;top:1057.8px">The Splurge</div><div class="goal" style="left:93px;top:49.0px">Goal: have an ideal, simple, robust<br>and decentralized <b>proof-of-stake</b><br><b>consensus</b></div><div class="goal" style="left:93px;top:227.25px">Goal: 100,000 <b>transactions per</b><br><b>second</b> and beyond (on rollups)</div><div class="goal" style="left:93px;top:468.2px">Goal: ensure reliable and credibly<br>neutral <b>transaction inclusion</b> and<br>avoid centralization and other<br>protocol risks from <b>MEV</b></div><div class="goal" style="left:93px;top:629.6px">Goal: <b>verifying</b> blocks should be super easy - download<br>N bytes of data, perform a few basic computations, verify<br>a SNARK and you're done</div><div class="goal" style="left:93px;top:852.2px">Goal: <b>simplify</b> the protocol, <b>eliminate technical</b><br><b>debt</b> and <b>limit costs</b> of participating in the network by<br>clearing old history</div><div class="goal" style="left:93px;top:1086.5px">Goal: fix <b>everything else</b></div><svg style="position:absolute;left:181px;top:17px" width="28" height="28" viewBox="0 0 28 28"><ellipse cx="14" cy="15.5" rx="12.6" ry="12" fill="#ededed"/><path d="M1.5 9 Q1 2 6 1 Q9 0.5 9.5 3.5 Q5 5 3 9.5 Z" fill="#292f33"/><path d="M26.5 9 Q27 2 22 1 Q19 0.5 18.5 3.5 Q23 5 25 9.5 Z" fill="#292f33"/><path d="M1.5 9 Q3 4 7.5 3 L6 6 Q3.5 7 2.5 10 Z" fill="#66757f"/><path d="M26.5 9 Q25 4 20.5 3 L22 6 Q24.5 7 25.5 10 Z" fill="#66757f"/><ellipse cx="9.5" cy="14.3" rx="3.6" ry="4.3" transform="rotate(20 9.5 14.3)" fill="#292f33"/><ellipse cx="18.5" cy="14.3" rx="3.6" ry="4.3" transform="rotate(-20 18.5 14.3)" fill="#292f33"/><circle cx="10" cy="14.5" r="1.8" fill="#66757f"/><circle cx="18" cy="14.5" r="1.8" fill="#66757f"/><ellipse cx="14" cy="21" rx="3.8" ry="1.9" fill="#292f33"/><ellipse cx="14" cy="25.5" rx="1.6" ry="1.2" fill="#e75a70"/></svg><svg style="position:absolute;left:181px;top:201px" width="28" height="27" viewBox="0 0 28 27"><path d="M1 25 L1 14 Q1 1 14.5 1 Q22 1 23.5 6.5 Q21 5 17.5 5.5 Q10.5 7 11 13.5 Q12 19 19 19 Q22.5 19 24 16 Q27.5 15.5 27.5 18.5 L27.5 24 Q27.5 26 25.5 26 L3 26 Q1 26 1 25 Z" fill="#55acee"/><path d="M23.5 6.5 Q21 5 17.5 5.5 Q10.5 7 11 13.5 Q12 19 19 19 Q13 18 13 12.5 Q13.5 7 18.5 6.3 Q21.5 6 23.5 6.5 Z" fill="#3b88c3"/></svg><svg style="position:absolute;left:193px;top:438px" width="22" height="26" viewBox="0 0 22 26"><path d="M1 25 Q1 19 6 18.5 L16 18.5 Q21 19 21 25 Z" fill="#f4762c"/><ellipse cx="11" cy="11.5" rx="5.8" ry="6.8" fill="#c7d3d8"/><path d="M3.5 11 Q2.5 2 10 1 Q18.5 0.5 19 9.5 Q19 13 17.8 14 L17 9 Q14 6 9 7 Q6 8 5 11 L5.5 14 Q3.8 13 3.5 11 Z" fill="#292f33"/><circle cx="8.8" cy="11.3" r="0.9" fill="#292f33"/><circle cx="13.5" cy="11.3" r="0.9" fill="#292f33"/><rect x="9" y="14.8" width="4.5" height="1" fill="#66757f"/></svg><svg style="position:absolute;left:181px;top:598px" width="28" height="28" viewBox="0 0 28 28"><rect x="0.5" y="0.5" width="27" height="27" rx="3" fill="#77b255"/><path d="M6.5 16 L11.7 21 L21.5 7" fill="none" stroke="#fff" stroke-width="3.4" stroke-linecap="round" stroke-linejoin="round"/></svg><svg style="position:absolute;left:181px;top:816px" width="28" height="28" viewBox="0 0 28 28"><line x1="25" y1="2.8" x2="15.5" y2="14.5" stroke="#a0524a" stroke-width="2.2" stroke-linecap="round"/><line x1="16.5" y1="13.3" x2="14" y2="16.5" stroke="#3b4a3a" stroke-width="2.4"/><path d="M7.5 14.5 L15.5 22 L10.5 27 Q9 28 7.5 26.5 L2 21 Q0.5 19.5 1.8 18 Z" fill="#f4b93a"/><line x1="7.5" y1="14.5" x2="15.5" y2="22" stroke="#55878e" stroke-width="2"/><path d="M8.5 13.5 L13.5 12 L16.5 15 L15.5 20.5 Z" fill="#f0d050"/></svg><svg style="position:absolute;left:190px;top:1052px" width="28" height="28" viewBox="0 0 28 28"><ellipse cx="14" cy="24.5" rx="13.3" ry="3.2" fill="#31373d"/><path d="M3.5 3 L5 23.5 Q14 26.5 23 23.5 L24.5 3 Z" fill="#31373d"/><path d="M5 17 L5.3 23.5 Q14 26.5 22.7 23.5 L23 17 Q14 19 5 17 Z" fill="#744eaa"/><ellipse cx="14" cy="3" rx="10.5" ry="2" fill="#31373d"/><path d="M4.5 3.8 Q14 6.5 23.5 3.8" fill="none" stroke="#66757f" stroke-width="1"/></svg><div class="tlabel" style="left:728.3px;top:492.93px">Distributed builder track</div><div class="tlabel" style="left:455.74px;top:956.75px">EVM simplification track</div><div class="tlabel" style="left:453.44px;top:1065.68px">EVM improvements track</div><div class="tlabel" style="left:452.14px;top:1147.37px">Account abstraction track</div><div class="btxt" style="left:201.26px;top:346.3px;width:570.91px;height:18.15px;line-height:18.15px"><span>Optimistic rollup fraud provers</span></div><div class="btxt" style="left:201.26px;top:373.53px;width:570.91px;height:18.15px;line-height:18.15px"><span>ZK-EVMs</span></div><div class="btxt" style="left:100.22px;top:118.97px;width:63.43px;height:36.31px;line-height:12.6px;"><span>Beacon chain<br>launch</span></div><div class="btxt" style="left:200.0px;top:118.97px;width:63.8px;height:36.31px;line-height:12.6px;"><span>Warmup fork<br>(Altair)</span></div><div class="btxt" style="left:282.82px;top:64.51px;width:72.5px;height:54.46px;line-height:11.8px;"><span>Merge!<br>No more<br>PoW</span></div><div class="btxt" style="left:427.81px;top:28.2px;width:72.5px;height:36.31px;line-height:12.6px;"><span>Distributed<br>validators</span></div><div class="btxt" style="left:427.81px;top:71.99px;width:72.5px;height:36.31px;line-height:12px;font-size:10.85px;"><span>Withdrawals</span></div><div class="btxt" style="left:545.62px;top:26.8px;width:72.5px;height:36.31px;line-height:12px;font-size:10.85px;"><span>View merge</span></div><div class="btxt" style="left:545.62px;top:73.59px;width:72.5px;height:36.31px;line-height:11.8px;"><span>Other fork<br>choice<br>improvements</span></div><div class="btxt" style="left:545.62px;top:118.97px;width:72.5px;height:36.31px;line-height:12.6px;"><span>Secret leader<br>election</span></div><div class="btxt" style="left:663.43px;top:28.2px;width:72.5px;height:36.31px;line-height:12.6px;"><span>SSF consensus<br>algorithm</span></div><div class="btxt" style="left:663.43px;top:73.59px;width:72.5px;height:36.31px;line-height:12.6px;"><span>Improved<br>aggregation</span></div><div class="btxt" style="left:663.43px;top:118.97px;width:72.5px;height:36.31px;line-height:12.6px;"><span>SSF validator<br>economics</span></div><div class="btxt" style="left:781.23px;top:64.51px;width:72.5px;height:54.46px;line-height:13px;"><span>Single<br>slot finality<br><span style='font-size:11px'>(SSF)</span></span></div><div class="btxt" style="left:899.04px;top:37.28px;width:72.5px;height:54.46px;line-height:12.0px;"><span>Quantum-safe<br>aggregation-<br>friendly<br>signatures</span></div><div class="btxt" style="left:899.04px;top:109.89px;width:72.5px;height:36.31px;line-height:12.6px;"><span>Support even<br>more validators</span></div><div class="btxt" style="left:281.55px;top:236.97px;width:72.5px;height:36.31px;line-height:12.6px;"><span>EIP-4844<br>specification</span></div><div class="btxt" style="left:427.81px;top:236.97px;width:72.5px;height:36.31px;line-height:12.6px;"><span>EIP-4844<br>implementation</span></div><div class="btxt" style="left:545.62px;top:227.89px;width:72.5px;height:54.46px;line-height:13.3px;"><span>Basic<br>rollup scaling</span></div><div class="btxt" style="left:663.43px;top:209.74px;width:72.5px;height:36.31px;line-height:12.6px;"><span>P2P design<br>for DAS</span></div><div class="btxt" style="left:663.43px;top:255.13px;width:72.5px;height:36.31px;line-height:12.6px;"><span>DA sampling<br>clients</span></div><div class="btxt" style="left:663.43px;top:300.51px;width:72.5px;height:36.31px;line-height:12.6px;"><span>Efficient DA<br>self-healing</span></div><div class="btxt" style="left:781.23px;top:227.89px;width:72.5px;height:54.46px;line-height:13.3px;"><span>Full<br>rollup scaling</span></div><div class="btxt" style="left:899.04px;top:227.89px;width:72.5px;height:54.46px;line-height:12.0px;"><span>Quantum-safe<br>and trusted-<br>setup-free<br>commitments</span></div><div class="btxt" style="left:363.58px;top:318.67px;width:54.37px;height:27.23px;line-height:12px;"><span>Prototype</span></div><div class="btxt" style="left:517.63px;top:318.67px;width:126.87px;height:27.23px;line-height:13.6px;"><span>Limited training wheels<br>(diverse 6-of-8 or stricter)</span></div><div class="btxt" style="left:744.18px;top:318.67px;width:54.37px;height:27.23px;line-height:13.6px;"><span>No training<br>wheels</span></div><div class="btxt" style="left:281.55px;top:445.74px;width:72.5px;height:36.31px;line-height:12.6px;"><span>Extra-protocol<br>MEV markets</span></div><div class="btxt" style="left:427.81px;top:445.74px;width:72.5px;height:36.31px;line-height:12.6px;"><span>Inclusion lists<br>or alternative</span></div><div class="btxt" style="left:427.81px;top:500.2px;width:72.5px;height:36.31px;line-height:12.6px;"><span>In-protocol<br>PBS spec</span></div><div class="btxt" style="left:545.62px;top:444.54px;width:72.5px;height:54.46px;line-height:13.3px;"><span>In-protocol<br>PBS</span></div><div class="btxt" style="left:545.62px;top:518.36px;width:72.5px;height:36.31px;line-height:11.8px;"><span>Application-<br>layer MEV<br>minimization</span></div><div class="btxt" style="left:663.43px;top:445.74px;width:72.5px;height:36.31px;line-height:12px;"><span>MEV burn</span></div><div class="btxt" style="left:808.42px;top:445.74px;width:72.5px;height:36.31px;line-height:12.6px;"><span>In-protocol pre-<br>confirmations?</span></div><div class="btxt" style="left:889.98px;top:445.74px;width:72.5px;height:36.31px;line-height:11.8px;"><span>In-protocol<br>frontrunning<br>protection?</span></div><div class="btxt" style="left:726.86px;top:509.28px;width:72.5px;height:36.31px;line-height:12.6px;"><span>Blob<br>construction</span></div><div class="btxt" style="left:808.42px;top:509.28px;width:72.5px;height:36.31px;line-height:11.8px;"><span>Pre-<br>confirmation<br>services</span></div><div class="btxt" style="left:889.98px;top:509.28px;width:72.5px;height:36.31px;line-height:12.6px;"><span>Frontrunning<br>protection</span></div><div class="btxt" style="left:163.48px;top:718.05px;width:72.5px;height:54.46px;line-height:11.8px;"><span>Most serious<br>EVM DoS<br>issues solved</span></div><div class="btxt" style="left:281.55px;top:716.05px;width:72.5px;height:54.46px;line-height:12.0px;"><span>Basic light<br>client support<br>(sync<br>committees)</span></div><div class="btxt" style="left:427.81px;top:618.21px;width:72.5px;height:36.31px;line-height:12.6px;"><span>Verkle tree<br>spec + impl</span></div><div class="btxt" style="left:427.81px;top:672.67px;width:72.5px;height:36.31px;line-height:11.8px;"><span>Code chunking<br>+ gas cost<br>updates</span></div><div class="btxt" style="left:427.81px;top:727.13px;width:72.5px;height:36.31px;line-height:12.6px;"><span>Transition spec<br>+ impl</span></div><div class="btxt" style="left:545.62px;top:609.13px;width:72.5px;height:36.31px;line-height:12.6px;"><span>SNARK /<br>STARK ASICs</span></div><div class="btxt" style="left:545.62px;top:663.59px;width:72.5px;height:54.46px;line-height:13.5px;font-size:11px;"><span>Verkle<br>trees</span></div><div class="btxt" style="left:545.62px;top:736.21px;width:72.5px;height:36.31px;line-height:12.6px;"><span>SNARK-based<br>light clients</span></div><div class="btxt" style="left:663.43px;top:618.21px;width:72.5px;height:36.31px;line-height:12.6px;"><span>SNARK for L1<br>EVM</span></div><div class="btxt" style="left:663.43px;top:672.67px;width:72.5px;height:36.31px;line-height:12.6px;"><span>SNARK for<br>Verkle proofs</span></div><div class="btxt" style="left:663.43px;top:727.13px;width:72.5px;height:36.31px;line-height:11.8px;"><span>SNARK for<br>consensus<br>state transition</span></div><div class="btxt" style="left:781.23px;top:663.59px;width:72.5px;height:54.46px;line-height:11.8px;"><span>Fully<br>SNARKed<br>Ethereum</span></div><div class="btxt" style="left:899.04px;top:609.13px;width:72.5px;height:36.31px;line-height:12.6px;"><span>Increase L1<br>gas limits</span></div><div class="btxt" style="left:899.04px;top:663.59px;width:72.5px;height:54.46px;line-height:12.0px;"><span>Move to<br>quantum-safe<br>SNARKs (eg.<br>STARKs)</span></div><div class="btxt" style="left:281.55px;top:926.82px;width:72.5px;height:36.31px;line-height:12.6px;"><span>Beacon chain<br>fast sync</span></div><div class="btxt" style="left:163.48px;top:972.21px;width:72.5px;height:36.31px;line-height:12.6px;"><span>Eliminate most<br>gas refunds</span></div><div class="btxt" style="left:281.55px;top:972.21px;width:72.5px;height:36.31px;line-height:12.6px;"><span>EIP-4444<br>specification</span></div><div class="btxt" style="left:427.81px;top:826.98px;width:72.5px;height:36.31px;line-height:11.8px;"><span>Alternative<br>history access<br>(eg. Portal)</span></div><div class="btxt" style="left:427.81px;top:881.44px;width:72.5px;height:36.31px;line-height:12.6px;"><span>EIP-4444<br>implementation</span></div><div class="btxt" style="left:545.62px;top:845.13px;width:72.5px;height:54.46px;line-height:11.8px;"><span>History<br>expiry<br>(EIP-4444)</span></div><div class="btxt" style="left:663.43px;top:826.98px;width:72.5px;height:36.31px;line-height:12.6px;"><span>Base state<br>expiry spec</span></div><div class="btxt" style="left:663.43px;top:881.44px;width:72.5px;height:36.31px;line-height:12.6px;"><span>Address space<br>extension</span></div><div class="btxt" style="left:781.23px;top:826.98px;width:72.5px;height:36.31px;line-height:12.6px;"><span>State expiry<br>implementation</span></div><div class="btxt" style="left:781.23px;top:881.44px;width:72.5px;height:36.31px;line-height:12.6px;"><span>Application<br>analysis</span></div><div class="btxt" style="left:781.23px;top:926.82px;width:72.5px;height:36.31px;line-height:12px;"><span>LOG reform</span></div><div class="btxt" style="left:781.23px;top:972.21px;width:72.5px;height:36.31px;line-height:12.6px;"><span>Remove old tx<br>types</span></div><div class="btxt" style="left:899.04px;top:845.13px;width:72.5px;height:54.46px;line-height:13.3px;"><span>State<br>expiry</span></div><div class="btxt" style="left:899.04px;top:972.21px;width:72.5px;height:36.31px;line-height:12.6px;"><span>Serialization<br>harmonization</span></div><div class="btxt" style="left:455.0px;top:972.21px;width:72.5px;height:36.31px;line-height:12.6px;"><span>Ban SELF-<br>DESTRUCT</span></div><div class="btxt" style="left:536.56px;top:972.21px;width:72.5px;height:36.31px;line-height:12.6px;"><span>Simplify gas<br>mechanics</span></div><div class="btxt" style="left:618.12px;top:972.21px;width:72.5px;height:36.31px;line-height:12.6px;"><span>Precompiles -&gt;<br>EVM impls</span></div><div class="btxt" style="left:163.48px;top:1117.44px;width:72.5px;height:36.31px;line-height:12px;"><span>EIP-1559</span></div><div class="btxt" style="left:281.55px;top:1162.83px;width:72.5px;height:36.31px;line-height:12.6px;"><span>ERC-4337<br>specification</span></div><div class="btxt" style="left:455.0px;top:1081.13px;width:72.5px;height:36.31px;line-height:12px;"><span>EOF</span></div><div class="btxt" style="left:536.56px;top:1081.13px;width:72.5px;height:36.31px;line-height:12.6px;"><span>Big modular<br>arithmetic</span></div><div class="btxt" style="left:618.12px;top:1081.13px;width:72.5px;height:36.31px;line-height:11.2px;"><span>Further EVM<br><span style='font-size:9px'>improvements</span></span></div><div class="btxt" style="left:455.0px;top:1162.83px;width:67.97px;height:36.31px;line-height:12.6px;"><span>ERC-4337<br>rollout</span></div><div class="btxt" style="left:541.09px;top:1162.83px;width:63.43px;height:36.31px;line-height:11.8px;"><span>Voluntary<br>EOA<br>conversion</span></div><div class="btxt" style="left:622.65px;top:1162.83px;width:67.97px;height:36.31px;line-height:12.6px;"><span>In-protocol<br>enshrining</span></div><div class="btxt" style="left:781.23px;top:1062.98px;width:72.5px;height:45.38px;line-height:13.3px;"><span>Endgame<br>EVM</span></div><div class="btxt" style="left:781.23px;top:1117.44px;width:72.5px;height:36.31px;line-height:12.6px;"><span>Endgame<br>EIP-1559</span></div><div class="btxt" style="left:781.23px;top:1162.83px;width:72.5px;height:45.38px;line-height:13.2px;"><span>Endgame<br>account<br>abstraction</span></div><div class="btxt" style="left:899.04px;top:1062.98px;width:72.5px;height:36.31px;line-height:12.6px;"><span>Verifiable delay<br>function spec</span></div><div class="btxt" style="left:899.04px;top:1112.9px;width:72.5px;height:45.38px;line-height:12px;"><span>VDFs</span></div><div class="btxt" style="left:899.04px;top:1171.9px;width:72.5px;height:36.31px;line-height:12px;"><span>VDF hardware</span></div></div>
</body></html>
